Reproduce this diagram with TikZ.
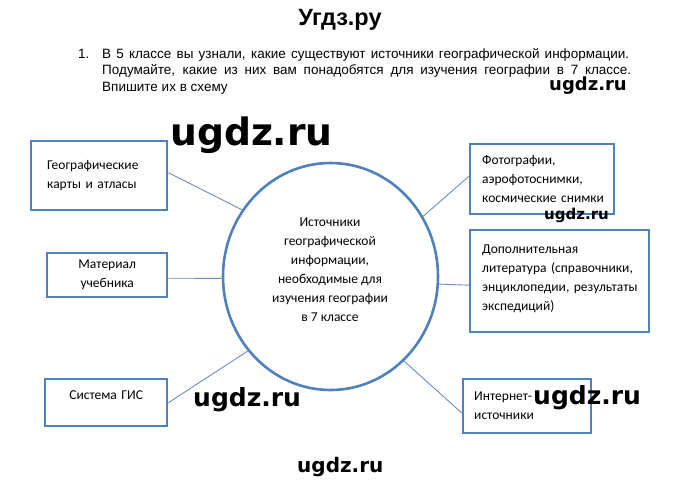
\documentclass[tikz,border=0pt]{standalone}
\usepackage{fontspec}
\setmainfont{Carlito}
\newfontfamily\arialf{Liberation Sans}
\newfontfamily\wmf{DejaVu Sans}
\usetikzlibrary{shapes.geometric,calc}
\definecolor{bblue}{HTML}{4F81BD}
\definecolor{lblue}{HTML}{6A8CC4}
\begin{document}
\begin{tikzpicture}[x=1pt,y=-1pt,
  box/.style={draw=bblue, line width=2.4pt, inner ysep=0pt, font=\fontsize{13.5}{19}\selectfont, align=left, anchor=north west},
  cbox/.style={box, align=center},
  link/.style={draw=lblue, line width=0.9pt},
  wm/.style={font=\wmf\bfseries, anchor=west, inner sep=0pt, text=black},
  task/.style={font=\arialf\fontsize{13.5}{16}\selectfont, anchor=base west, inner sep=0pt},
]
\useasboundingbox[fill=white] (0,0) rectangle (680,485);

% title and task
\node[font=\arialf\bfseries\fontsize{23.5}{28}\selectfont, anchor=base, inner sep=0pt] (title) at (340,25) {Угдз.ру};
\node[task] (num) at (78,58) {1.};
\node[task] (t1) at (102,58) {\makebox[527pt][s]{В 5 классе вы узнали, какие существуют источники географической информации.}};
\node[task] (t2) at (102,74.5) {\makebox[529pt][s]{Подумайте, какие из них вам понадобятся для изучения географии в 7 классе.}};
\node[task] (t3) at (102,91) {Впишите их в схему};

% centre
\node[ellipse, draw=bblue, line width=2.6pt, minimum width=215pt, minimum height=227pt, inner sep=0pt] (circ) at (330.5,276.5) {};
\node[font=\fontsize{13.5}{19}\selectfont, align=center, inner sep=0pt] (ctext) at (330,270) {Источники\\географической\\информации,\\необходимые для\\изучения географии\\в 7 классе};

% boxes
\node[box, text width=104pt, inner xsep=16pt, minimum height=69pt] (b1) at (30,140) {Географические\\карты и атласы};
\node[cbox, text width=104pt, inner xsep=8pt, minimum height=44pt] (b2) at (46,252) {Материал\\учебника};
\node[cbox, text width=106pt, inner xsep=8pt, minimum height=47pt] (b3) at (44,378) {Система ГИС\\[-3pt]\mbox{}};
\node[box, text width=120pt, inner xsep=12pt, minimum height=70pt] (b4) at (469,143) {Фотографии,\\аэрофотоснимки,\\космические~снимки};
\node[box, text width=155pt, inner xsep=12pt, minimum height=102pt] (b5) at (469,229) {Дополнительная\\литература~(справочники,\\энциклопедии,~результаты\\экспедиций)\\[-11pt]\mbox{}};
\node[box, text width=106pt, inner xsep=11pt, minimum height=54pt] (b6) at (462,378) {Интернет-\\источники};

% connectors
\draw[link] ([yshift=3pt]b1.east) -- (circ.143.9);
\draw[link] ([yshift=-3pt]b2.east) -- (circ.181.3);
\draw[link] (b3.east) -- (circ.222.3);
\draw[link] ([yshift=3pt]b4.west) -- (circ.33.3);
\draw[link] ([yshift=-4pt]b5.west) -- (circ.-4.5);
\draw[link] ([yshift=-7pt]b6.west) -- (circ.-49.3);

% watermarks
\node[wm, font=\wmf\bfseries\fontsize{18}{20}\selectfont] (w1) at (549,86) {ugdz.ru};
\node[wm, font=\wmf\bfseries\fontsize{37.7}{40}\selectfont] (w2) at (170,135) {ugdz.ru};
\node[wm, font=\wmf\bfseries\fontsize{15}{17}\selectfont] (w3) at (544,215) {ugdz.ru};
\node[wm, font=\wmf\bfseries\fontsize{25}{27}\selectfont] (w4) at (193,400) {ugdz.ru};
\node[wm, font=\wmf\bfseries\fontsize{25}{27}\selectfont] (w5) at (533,398) {ugdz.ru};
\node[wm, font=\wmf\bfseries\fontsize{20}{22}\selectfont] (w6) at (297,467) {ugdz.ru};
\end{tikzpicture}
\end{document}
